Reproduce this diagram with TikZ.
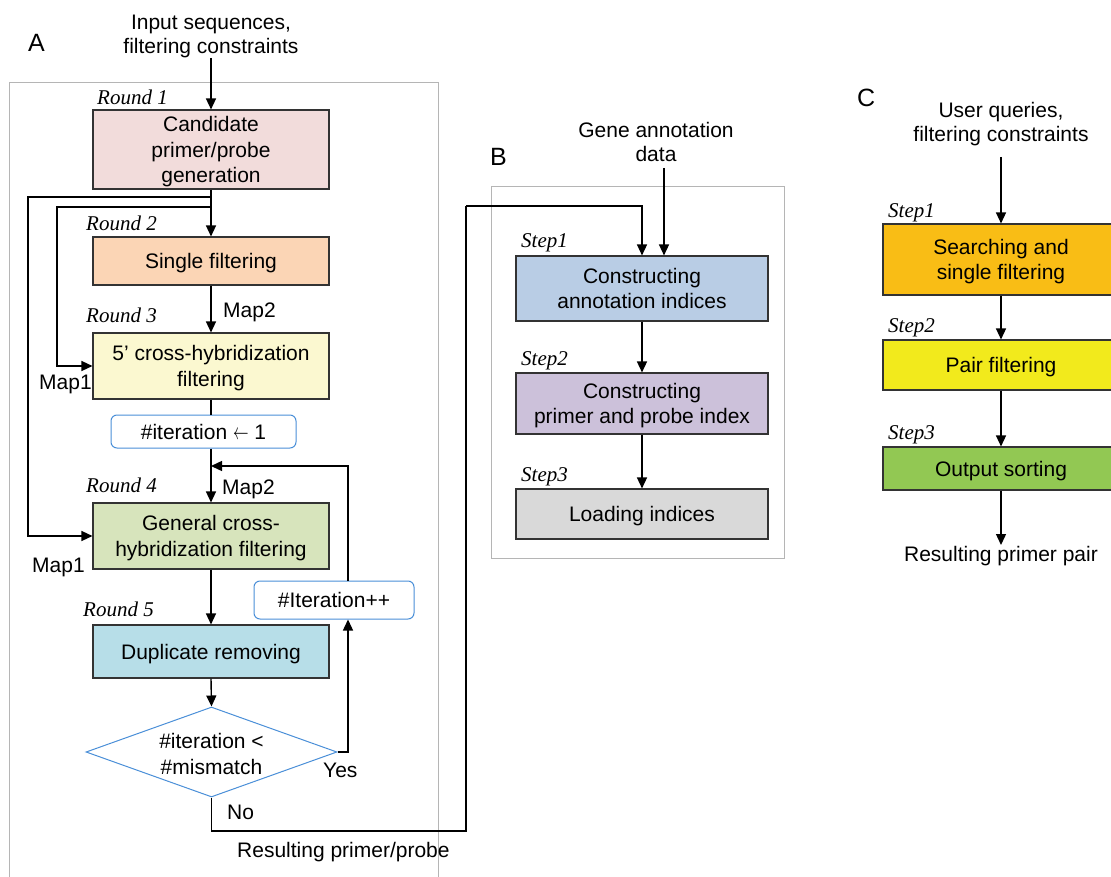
\documentclass[tikz,border=0pt]{standalone}
\usepackage{fontspec}
\setmainfont{Liberation Sans}
\newfontfamily\serifit{Liberation Serif}
\usetikzlibrary{arrows.meta,shapes.geometric}
\definecolor{r1c}{HTML}{F2DCDB}
\definecolor{r2c}{HTML}{FBD5B5}
\definecolor{r3c}{HTML}{FBF8D0}
\definecolor{r4c}{HTML}{D7E4BC}
\definecolor{r5c}{HTML}{B7DEE8}
\definecolor{b1c}{HTML}{B9CDE5}
\definecolor{b2c}{HTML}{CCC1DA}
\definecolor{b3c}{HTML}{D9D9D9}
\definecolor{c1c}{HTML}{F9BD15}
\definecolor{c2c}{HTML}{F2EA1C}
\definecolor{c3c}{HTML}{92C853}
\definecolor{bluec}{HTML}{4A8FD8}
\definecolor{framec}{HTML}{B5B5B5}
\newcommand{\mainfs}{\fontsize{21}{25.5}\selectfont}
\newcommand{\larr}{\scalebox{0.75}[1.1]{$\leftarrow$}}
\begin{document}
\begin{tikzpicture}[x=1pt,y=-1pt,
  box/.style={draw=black!80, line width=1.1pt, minimum width=236pt, inner sep=0pt, align=center, font=\mainfs, text depth=-2pt},
  rbox/.style={draw=bluec, line width=1pt, rounded corners=6pt, fill=white, inner sep=0pt, align=center, font=\mainfs},
  ln/.style={line width=1.4pt},
  arr/.style={line width=1.4pt, -{Triangle[length=11pt,width=10pt]}},
  lab/.style={font=\mainfs, inner sep=0pt, anchor=base west},
  rlab/.style={font=\serifit\itshape\fontsize{21}{24}\selectfont, inner sep=0pt, anchor=base west},
  plab/.style={font=\fontsize{25}{28}\selectfont, inner sep=0pt, anchor=base west},
  ttl/.style={font=\fontsize{21}{24}\selectfont, inner sep=0pt, align=center}]
\useasboundingbox (0,0) rectangle (1111,877);
% frames
\draw[framec, line width=1pt] (9,83) rectangle (438,900);
\draw[framec, line width=1pt] (491,187) rectangle (784,558);
% panel letters
\node[plab] (pA) at (28,52) {A};
\node[plab] (pB) at (490,166) {B};
\node[plab] (pC) at (857,107) {C};
% ---------- Panel A ----------
\node[ttl] (inA) at (211,36) {Input sequences,\\filtering constraints};
\coordinate (a0) at (211,58);
\node[box, fill=r1c, minimum height=79pt] (r1) at (211,149.5) {Candidate\\primer/probe\\generation};
\node[box, fill=r2c, minimum height=48pt] (r2) at (211,261) {Single filtering};
\node[box, fill=r3c, minimum height=66pt] (r3) at (211,366) {5’ cross-hybridization\\filtering};
\node[rbox, minimum width=185pt, minimum height=33pt] (it1) at (203.5,431.5) {\#iteration \larr{} 1};
\node[box, fill=r4c, minimum height=66pt] (r4) at (211,536) {General cross-\\hybridization filtering};
\node[rbox, minimum width=160pt, minimum height=38pt] (itpp) at (334,600) {\#Iteration++};
\node[box, fill=r5c, minimum height=53pt] (r5) at (211,651.5) {Duplicate removing};
\node[diamond, draw=bluec, line width=1pt, fill=white, inner sep=0pt, minimum width=251pt, minimum height=90pt] (dia) at (211.5,752) {};
\node[font=\mainfs, align=center, inner sep=0pt] (diat) at (211.5,754) {\#iteration <\\\#mismatch};
\node[rlab] (R1) at (97,105) {Round 1};
\node[rlab] (R2) at (86,231) {Round 2};
\node[rlab] (R3) at (86,323) {Round 3};
\node[rlab] (R4) at (86,492) {Round 4};
\node[rlab] (R5) at (83,616) {Round 5};
\node[lab] (m2a) at (223,318) {Map2};
\node[lab] (m1a) at (39,389) {Map1};
\node[lab] (m2b) at (222,494) {Map2};
\node[lab] (m1b) at (32,572) {Map1};
\node[lab] (yes) at (323,777) {Yes};
\node[lab] (no) at (227,819) {No};
\node[lab] (resA) at (237,857) {Resulting primer/probe};
\draw[arr] (a0) -- (r1.north);
\draw[arr] (r1.south) -- (r2.north);
\coordinate (j1) at (211,197);
\coordinate (j2) at (211,207);
\coordinate (k1) at (28,197);
\coordinate (k2) at (57,207);
\draw[arr] (j1) -- (k1) |- (r4.west);
\draw[arr] (j2) -- (k2) |- (r3.west);
\draw[arr] (r2.south) -- (r3.north);
\draw[ln] (r3.south) -- (r3.south |- it1.north);
\draw[arr] (r3.south |- it1.south) -- (r4.north);
\draw[arr] (r4.south) -- (r5.north);
\draw[arr] (r5.south) -- (dia.north);
\draw[arr] (dia.east) -| ([xshift=14pt]itpp.south);
\coordinate (m) at (211,466);
\draw[arr] ([xshift=14pt]itpp.north) |- (m);
\coordinate (n1) at (466,831);
\coordinate (n2) at (466,206);
% ---------- Panel B ----------
\node[ttl] (inB) at (656,142) {Gene annotation\\data};
\coordinate (b0) at (664,168);
\node[box, fill=b1c, minimum width=252pt, minimum height=65pt] (b1) at (642,288.5) {Constructing\\annotation indices};
\node[box, fill=b2c, minimum width=252pt, minimum height=61pt] (b2) at (642,403.5) {Constructing\\primer and probe index};
\node[box, fill=b3c, minimum width=252pt, minimum height=50pt] (b3) at (642,514) {Loading indices};
\node[rlab] (S1) at (521,248) {Step1};
\node[rlab] (S2) at (521,365) {Step2};
\node[rlab] (S3) at (521,481) {Step3};
\draw[ln] (dia.south) |- (n1) -- (n2);
\draw[arr] (n2) -| (b1.north);
\draw[arr] (b0) -- ([xshift=22pt]b1.north);
\draw[arr] (b1.south) -- (b2.north);
\draw[arr] (b2.south) -- (b3.north);
% ---------- Panel C ----------
\node[ttl] (inC) at (1001,124) {User queries,\\filtering constraints};
\coordinate (c0) at (1001,157);
\node[box, fill=c1c, minimum height=71pt] (c1) at (1001,259.5) {Searching and\\single filtering};
\node[box, fill=c2c, minimum height=50pt] (c2) at (1001,365) {Pair filtering};
\node[box, fill=c3c, minimum height=43pt] (c3) at (1001,468.5) {Output sorting};
\node[rlab] (T1) at (888,218) {Step1};
\node[rlab] (T2) at (888,333) {Step2};
\node[rlab] (T3) at (888,439) {Step3};
\coordinate (c4) at (1001,545);
\node[font=\fontsize{21}{24}\selectfont, inner sep=0pt, anchor=base] (resC) at (1001,561) {Resulting primer pair};
\draw[arr] (c0) -- (c1.north);
\draw[arr] (c1.south) -- (c2.north);
\draw[arr] (c2.south) -- (c3.north);
\draw[arr] (c3.south) -- (c4);
\end{tikzpicture}
\end{document}
